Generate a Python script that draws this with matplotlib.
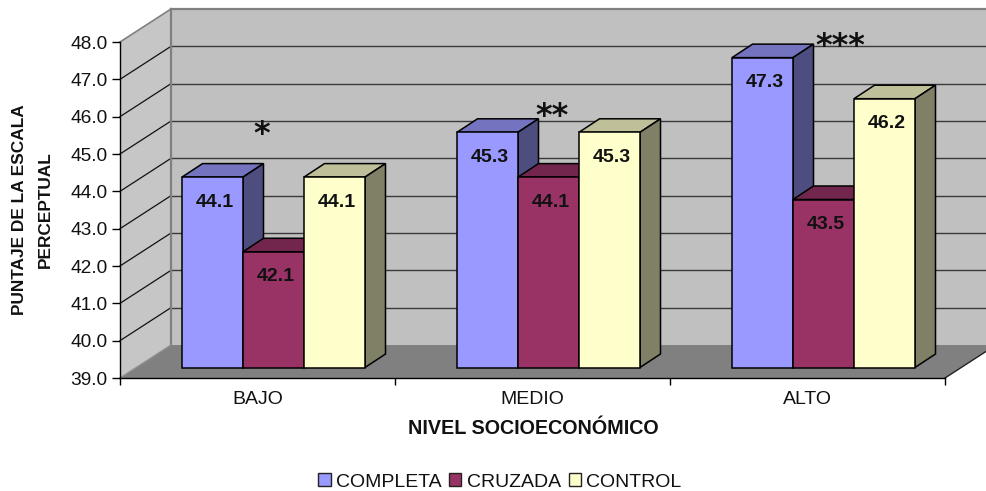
import numpy as np
import matplotlib
matplotlib.use("Agg")
import matplotlib.pyplot as plt
from matplotlib.patches import Polygon, Patch

plt.rcParams["font.family"] = ["Liberation Sans", "DejaVu Sans"]

# ============================================================
# Data
# ============================================================

CATEGORIES = ["BAJO", "MEDIO", "ALTO"]
SERIES = ["COMPLETA", "CRUZADA", "CONTROL"]

completa = [44.1, 45.3, 47.3]
cruzada = [42.1, 44.1, 43.5]
control = [44.1, 45.3, 46.2]

STARS = ["*", "**", "***"]

Y_TICKS = [39, 40, 41, 42, 43, 44, 45, 46, 47, 48]

# ============================================================
# Style
# ============================================================

FRONT = ["#9999FF", "#993366", "#FFFFCC"]
TOP = ["#7373BF", "#73264D", "#BFBF99"]
SIDE = ["#4D4D80", "#4D1A33", "#808066"]

WALL_BACK = "#C0C0C0"
WALL_SIDE = "#C6C6C6"
FLOOR = "#808080"

Y_MIN, Y_MAX = 39, 48

# pixel layout of the front plane
W, H = 987, 491
LEFT, RIGHT, BOTTOM, TOP_PX = 120, 945, 378, 42

PX_X = (RIGHT - LEFT) / 3.0
PX_Y = (BOTTOM - TOP_PX) / 9.0

# depth of the box, in data units
DEPTH_X = 51 / PX_X
DEPTH_Y = 33 / PX_Y

# bars sit a bit inside the floor, with their own depth
BAR_OFF_X = 16 / PX_X
BAR_OFF_Y = 10.5 / PX_Y
BAR_DX = 20.5 / PX_X
BAR_DY = 13.5 / PX_Y
GAP = 46 / PX_X
BAR_W = 61 / PX_X


def poly(ax, pts, color, edge="none", lw=0.0, z=1):
    ax.add_patch(Polygon(pts, closed=True, facecolor=color, edgecolor=edge,
                         linewidth=lw, zorder=z, clip_on=False,
                         joinstyle="miter"))


def draw_box(ax):
    dx, dy = DEPTH_X, DEPTH_Y
    n = len(CATEGORIES)

    # back wall, side wall, floor
    poly(ax, [(dx, Y_MIN + dy), (n + dx, Y_MIN + dy), (n + dx, Y_MAX + dy), (dx, Y_MAX + dy)], WALL_BACK)
    poly(ax, [(0, Y_MIN), (dx, Y_MIN + dy), (dx, Y_MAX + dy), (0, Y_MAX)], WALL_SIDE)
    poly(ax, [(0, Y_MIN), (n, Y_MIN), (n + dx, Y_MIN + dy), (dx, Y_MIN + dy)], FLOOR)

    for v in Y_TICKS[1:-1]:
        ax.plot([0, dx], [v, v + dy], color="#111111", lw=0.9, zorder=1.2, clip_on=False)
        ax.plot([dx, n + dx], [v + dy, v + dy], color="#3A3A3A", lw=1.0, zorder=1.2, clip_on=False)

    # grey frame of the walls
    ax.plot([dx, dx], [Y_MIN + dy, Y_MAX + dy], color="#808080", lw=1.6, zorder=1.3, clip_on=False)
    ax.plot([dx, n + dx], [Y_MAX + dy, Y_MAX + dy], color="#808080", lw=1.6, zorder=1.3, clip_on=False)
    ax.plot([0, dx], [Y_MAX, Y_MAX + dy], color="#808080", lw=1.2, zorder=1.3, clip_on=False)
    ax.plot([0, dx], [Y_MIN, Y_MIN + dy], color="#909090", lw=1.0, zorder=1.3, clip_on=False)
    ax.plot([n, n + dx], [Y_MIN, Y_MIN + dy], color="#222222", lw=1.0, zorder=1.3, clip_on=False)


def draw_bars(ax, values_by_series):
    # bars stand on the floor, lifted by the offset
    base = Y_MIN + BAR_OFF_Y
    dx, dy = BAR_DX, BAR_DY

    for c in range(len(CATEGORIES)):
        for s, values in enumerate(values_by_series):
            x0 = c + BAR_OFF_X + GAP + s * BAR_W
            x1 = x0 + BAR_W
            top = values[c] + BAR_OFF_Y
            z = 3 + c + s * 0.1
            poly(ax, [(x0, top), (x1, top), (x1 + dx, top + dy), (x0 + dx, top + dy)], TOP[s], "black", 1.1, z)
            poly(ax, [(x1, base), (x1 + dx, base + dy), (x1 + dx, top + dy), (x1, top)], SIDE[s], "black", 1.1, z)
            poly(ax, [(x0, base), (x1, base), (x1, top), (x0, top)], FRONT[s], "black", 1.1, z + 0.01)

            ax.text((x0 + x1) / 2 + 2 / PX_X, top - 25 / PX_Y, f"{values[c]:.1f}",
                    ha="center", va="center", fontsize=14, fontweight="bold",
                    color="#111111", zorder=20)


def main():
    fig = plt.figure(figsize=(W / 100, H / 100), dpi=100)
    ax = fig.add_axes([LEFT / W, 1 - BOTTOM / H, (RIGHT - LEFT) / W, (BOTTOM - TOP_PX) / H])
    ax.patch.set_visible(False)

    ax.set_xlim(0, len(CATEGORIES))
    ax.set_ylim(Y_MIN, Y_MAX)

    draw_box(ax)
    draw_bars(ax, [completa, cruzada, control])

    for sp in ["top", "right"]:
        ax.spines[sp].set_visible(False)
    for sp in ["left", "bottom"]:
        ax.spines[sp].set_linewidth(1.0)
        ax.spines[sp].set_zorder(2)

    # axis ticks
    ax.set_yticks(Y_TICKS)
    ax.set_yticklabels([f"{v:.1f}" for v in Y_TICKS], fontsize=13.8, color="#111111")
    ax.tick_params(axis="y", length=6, width=1.0, pad=3)

    ax.set_xticks(range(len(CATEGORIES) + 1))
    ax.set_xticklabels([])
    ax.tick_params(axis="x", which="major", length=5, width=1.0)
    ax.set_xticks(np.arange(len(CATEGORIES)) + 0.5, minor=True)
    ax.set_xticklabels(CATEGORIES, minor=True, fontsize=14, color="#111111")
    ax.tick_params(axis="x", which="minor", length=0, pad=9.5)

    # significance stars
    star_x = [0.517, 1.57, 2.62]
    star_y = [45.53, 46.0, 47.87]
    for x, y, s in zip(star_x, star_y, STARS):
        ax.text(x, y, s, ha="center", va="center", fontsize=23, fontweight="bold",
                color="#111111", family="DejaVu Sans", zorder=30)

    fig.text(533 / W, 1 - 428 / H, "NIVEL SOCIOECONÓMICO", ha="center", va="center",
             fontsize=14.2, fontweight="bold", color="#111111")
    fig.text(32.5 / W, 1 - 210 / H, "PUNTAJE DE LA ESCALA\nPERCEPTUAL", ha="center", va="center",
             rotation=90, fontsize=12.4, fontweight="bold", linespacing=1.95, color="#111111",
             multialignment="center")

    handles = [Patch(facecolor=c, edgecolor="#222222", linewidth=1.0) for c in FRONT]
    fig.legend(handles, SERIES, loc="center", bbox_to_anchor=(500 / W, 1 - 482 / H), ncol=3,
               frameon=False, fontsize=14, handlelength=0.62, handleheight=0.62,
               handletextpad=0.28, columnspacing=0.4, borderpad=0, labelcolor="#111111")

    fig.savefig("out.png", dpi=100)


if __name__ == "__main__":
    main()
